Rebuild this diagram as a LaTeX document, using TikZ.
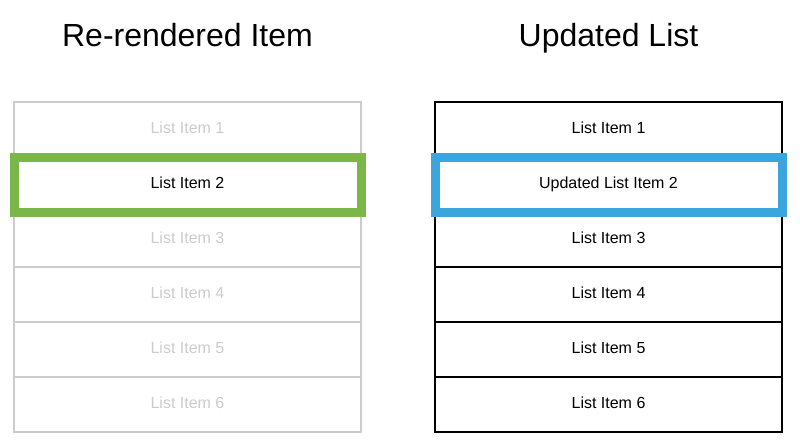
\documentclass[tikz,border=0pt]{standalone}
\usepackage{fontspec}
\setmainfont{Liberation Sans}
\usepackage{tikz}
\usetikzlibrary{positioning}

\definecolor{faded}{HTML}{CCCCCC}
\definecolor{pickgreen}{HTML}{7AB648}
\definecolor{pickblue}{HTML}{3AA6DD}

\begin{document}
\begin{tikzpicture}[x=1pt,y=-1pt,
		row/.style={rectangle, minimum width=347pt, minimum height=55pt,
			inner sep=0pt, outer sep=0pt, line width=1.5pt,
			text height=11.5pt, text depth=4pt, font=\fontsize{16}{18}\selectfont},
		oldrow/.style={row, draw=faded, text=faded},
		newrow/.style={row, draw=black, text=black},
		pick/.style={row, draw=#1, line width=9pt, text=black},
		title/.style={font=\fontsize{32}{36}\selectfont, anchor=base}]
	\useasboundingbox (0,0) rectangle (800,445);
	% titles
	\node[title] (lefttitle) at (187.5,46) {Re-rendered Item};
	\node[title] (righttitle) at (608.5,46) {Updated List};
	% left list
	\foreach \i in {1,3,4,5,6}
		\node[oldrow] (l\i) at (187.5,{129.5+55*(\i-1)}) {List Item \i};
	\node[pick=pickgreen] (l2) at (187.5,184.5) {List Item 2};
	% right list
	\foreach \i in {1,3,4,5,6}
		\node[newrow] (r\i) at (608.5,{129.5+55*(\i-1)}) {List Item \i};
	\node[pick=pickblue] (r2) at (608.5,184.5) {Updated List Item 2};
\end{tikzpicture}
\end{document}
